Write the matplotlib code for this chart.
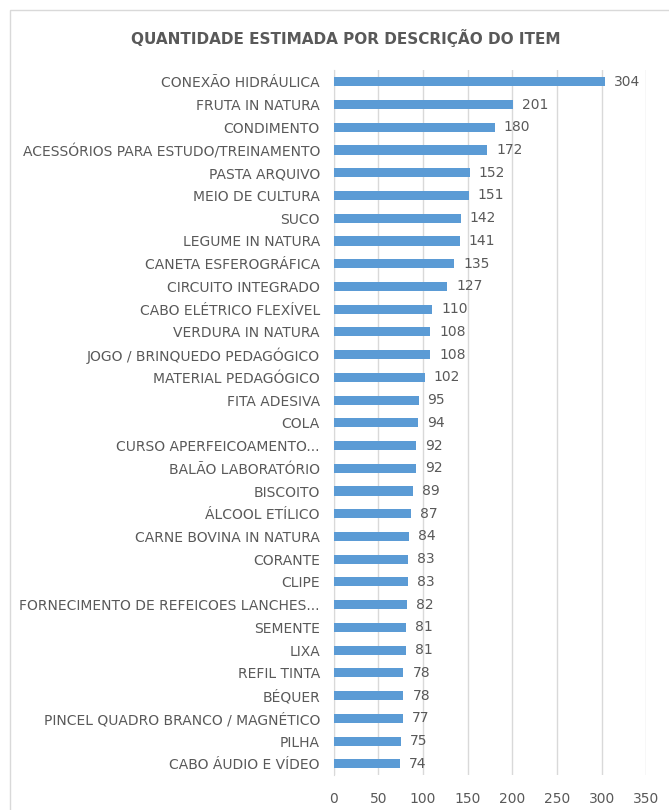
import matplotlib
matplotlib.use("Agg")
import matplotlib.pyplot as plt
from matplotlib.patches import Rectangle

plt.rcParams['font.family'] = ['DejaVu Sans']

categories = [
    'CONEXÃO HIDRÁULICA', 'FRUTA IN NATURA', 'CONDIMENTO',
    'ACESSÓRIOS PARA ESTUDO/TREINAMENTO', 'PASTA ARQUIVO', 'MEIO DE CULTURA',
    'SUCO', 'LEGUME IN NATURA', 'CANETA ESFEROGRÁFICA', 'CIRCUITO INTEGRADO',
    'CABO ELÉTRICO FLEXÍVEL', 'VERDURA IN NATURA', 'JOGO / BRINQUEDO PEDAGÓGICO',
    'MATERIAL PEDAGÓGICO', 'FITA ADESIVA', 'COLA', 'CURSO APERFEICOAMENTO...',
    'BALÃO LABORATÓRIO', 'BISCOITO', 'ÁLCOOL ETÍLICO', 'CARNE BOVINA IN NATURA',
    'CORANTE', 'CLIPE', 'FORNECIMENTO DE REFEICOES LANCHES...', 'SEMENTE',
    'LIXA', 'REFIL TINTA', 'BÉQUER', 'PINCEL QUADRO BRANCO / MAGNÉTICO',
    'PILHA', 'CABO ÁUDIO E VÍDEO',
]
values = [304, 201, 180, 172, 152, 151, 142, 141, 135, 127, 110, 108, 108,
          102, 95, 94, 92, 92, 89, 87, 84, 83, 83, 82, 81, 81, 78, 78, 77, 75, 74]
xticks = [0, 50, 100, 150, 200, 250, 300, 350]

txt = '#595959'
fig = plt.figure(figsize=(6.69, 8.10), dpi=100)
# light frame of the chart area (runs off the right and bottom edges)
fig.patches.append(Rectangle((10 / 669, -0.1), 1.2, (1 - 10 / 810) + 0.1,
                             transform=fig.transFigure, fill=False,
                             edgecolor='#D9D9D9', linewidth=1.0))
ax = fig.add_axes([0.499, 0.043, 0.467, 0.870])

y = list(range(len(categories)))
ax.barh(y, values, height=0.4, color='#5B9BD5', zorder=3)
for yi, v in zip(y, values):
    ax.text(v + 10, yi, str(v), va='center', ha='left', fontsize=10, color=txt)

ax.set_ylim(len(categories) - 0.5, -0.5)
ax.set_xlim(0, 350)
ax.set_xticks(xticks)
ax.set_yticks(y)
ax.set_yticklabels(categories)
ax.tick_params(axis='both', length=0, labelsize=10, labelcolor=txt)
ax.tick_params(axis='x', pad=12)
ax.tick_params(axis='y', pad=10)
ax.grid(axis='x', color='#D9D9D9', linewidth=1, zorder=0)
for s in ['top', 'right', 'bottom']:
    ax.spines[s].set_visible(False)
ax.spines['left'].set_color('#D9D9D9')

fig.text(346 / 669, 1 - 38 / 810, 'QUANTIDADE ESTIMADA POR DESCRIÇÃO DO ITEM',
         ha='center', va='center', fontsize=11, fontweight='bold', color=txt)

fig.savefig('out.png', dpi=100)
